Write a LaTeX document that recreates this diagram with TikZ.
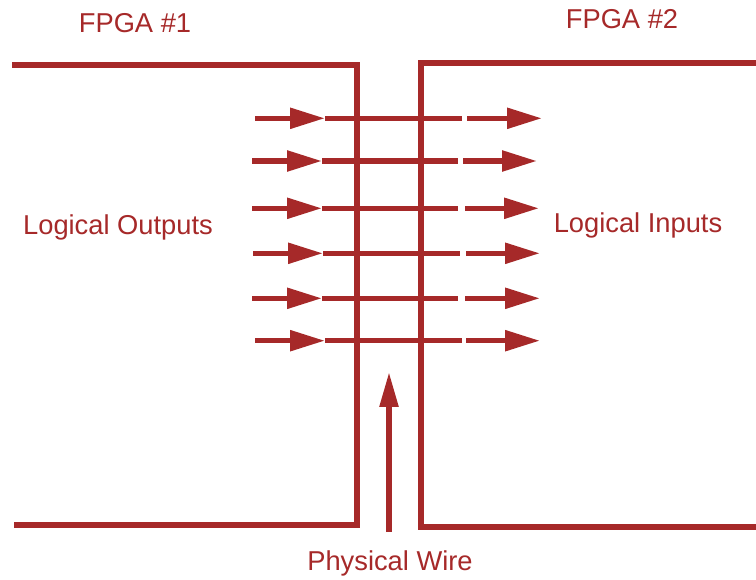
\documentclass[tikz,border=0pt]{standalone}
\usepackage{fontspec}
\setmainfont{Liberation Sans}
\usetikzlibrary{arrows.meta}
\definecolor{wirered}{RGB}{166,41,41}
\tikzset{
  wire/.style={wirered,line width=5.5pt},
  outline/.style={wirered,line width=6pt,miter limit=10},
  sig/.style={wire,-{Triangle[length=35pt,width=20pt]}},
  lbl/.style={wirered,anchor=base,inner sep=0pt,font=\fontsize{27.3}{31}\selectfont}
}
\begin{document}
\begin{tikzpicture}[x=1pt,y=-1pt]
\useasboundingbox (0,0) rectangle (756,580);
% FPGA outlines
\draw[outline] (12,65) -- (357,65) -- (357,525) -- (14,525);
\draw[outline] (756,63) -- (421,63) -- (421,527) -- (756,527);
% logical signals across the wire
\draw[sig] (255,118.3) -- (325,118.3);
\draw[wire] (325,118.3) -- (462,118.3);
\draw[sig] (467,118.3) -- (542,118.3);
\draw[sig] (252,161) -- (322,161);
\draw[wire] (322,161) -- (458,161);
\draw[sig] (463,161) -- (537,161);
\draw[sig] (252,208.3) -- (322,208.3);
\draw[wire] (322,208.3) -- (458,208.3);
\draw[sig] (465,208.3) -- (539,208.3);
\draw[sig] (253,253.3) -- (323,253.3);
\draw[wire] (323,253.3) -- (460,253.3);
\draw[sig] (466,253.3) -- (540,253.3);
\draw[sig] (252,298.3) -- (322,298.3);
\draw[wire] (322,298.3) -- (458,298.3);
\draw[sig] (465,298.3) -- (540,298.3);
\draw[sig] (255,340.7) -- (325,340.7);
\draw[wire] (325,340.7) -- (462,340.7);
\draw[sig] (466,340.7) -- (540,340.7);
% physical wire
\draw[wire,-{Triangle[length=35pt,width=18pt]}] (389,532) -- (389,372);
% labels
\node[lbl] (fpga1) at (135,33) {FPGA \#1};
\node[lbl] (fpga2) at (622,29) {FPGA \#2};
\node[lbl] (outs) at (118,235) {Logical Outputs};
\node[lbl] (ins) at (638,233) {Logical Inputs};
\node[lbl] (phys) at (390,570) {Physical Wire};
\end{tikzpicture}
\end{document}
